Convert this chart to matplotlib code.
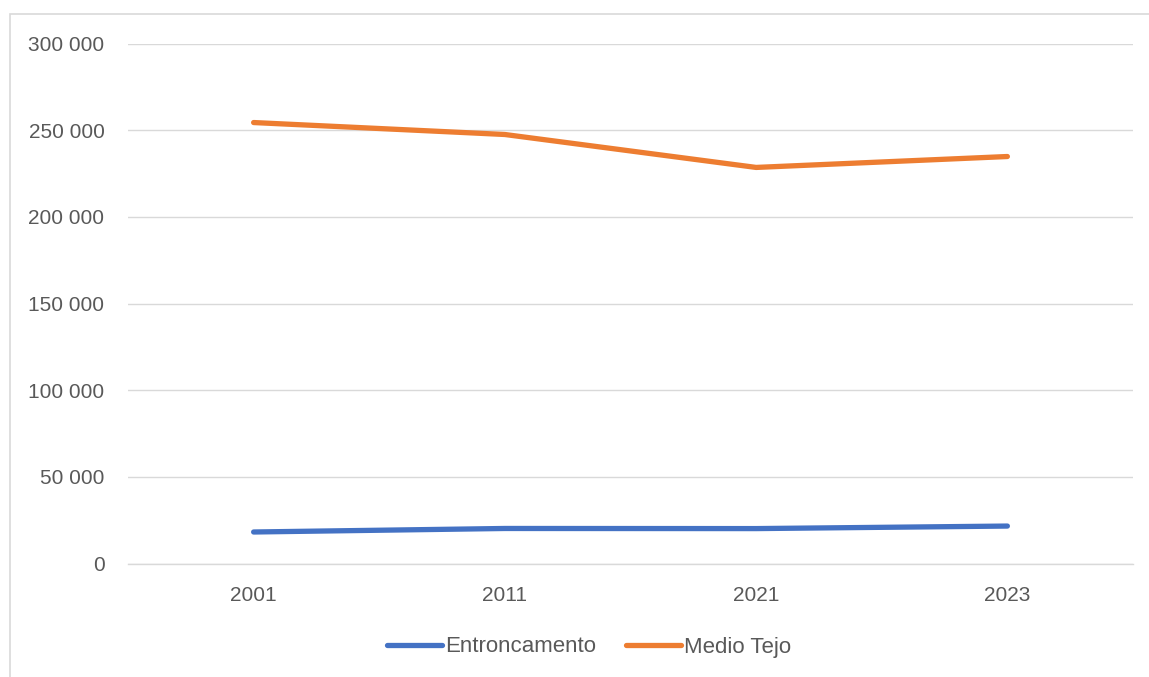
import matplotlib
matplotlib.use("Agg")
import matplotlib.pyplot as plt
from matplotlib.patches import Rectangle
from matplotlib.ticker import FuncFormatter

years = ["2001", "2011", "2021", "2023"]
entroncamento = [18174, 20206, 20141, 21600]
medio_tejo = [254400, 247500, 228500, 234800]
y_ticks = [0, 50000, 100000, 150000, 200000, 250000, 300000]

plt.rcParams['font.family'] = ['Liberation Sans', 'DejaVu Sans']

fig = plt.figure(figsize=(11.49, 6.77), dpi=100)
ax = fig.add_axes([128 / 1149, 1 - 563.5 / 677, 1005 / 1149, 520 / 677])

# outer chart border, like the Excel chart area
fig.patches.append(Rectangle((10 / 1149, -0.05), 1.1, 1.05 - 14 / 677,
                             transform=fig.transFigure, fill=False,
                             edgecolor='#D9D9D9', linewidth=1.2))

x = range(len(years))
ax.plot(x, entroncamento, color='#4472C4', linewidth=3.8,
        solid_capstyle='round', solid_joinstyle='round', label='Entroncamento')
ax.plot(x, medio_tejo, color='#ED7D31', linewidth=3.8,
        solid_capstyle='round', solid_joinstyle='round', label='Medio Tejo')

ax.set_xlim(-0.5, len(years) - 0.5)
ax.set_ylim(0, 300000)
ax.set_xticks(list(x))
ax.set_xticklabels(years)
ax.set_yticks(y_ticks)
ax.yaxis.set_major_formatter(FuncFormatter(lambda v, p: f"{int(v):,}".replace(",", " ")))

ax.grid(axis='y', color='#D9D9D9', linewidth=1.0)
ax.set_axisbelow(True)
for s in ['top', 'right', 'left']:
    ax.spines[s].set_visible(False)
ax.spines['bottom'].set_color('#D9D9D9')
ax.spines['bottom'].set_linewidth(1.0)
ax.tick_params(axis='both', length=0, labelsize=15, colors='#595959')
ax.tick_params(axis='y', pad=17)
ax.tick_params(axis='x', pad=16)

leg = fig.legend(loc='center', bbox_to_anchor=(589 / 1149, 1 - 647 / 677), ncol=2,
                 frameon=False, fontsize=16, handlelength=2.5, handletextpad=0.12,
                 columnspacing=1.35)
for t in leg.get_texts():
    t.set_color('#595959')

fig.savefig("out.png", dpi=100)
